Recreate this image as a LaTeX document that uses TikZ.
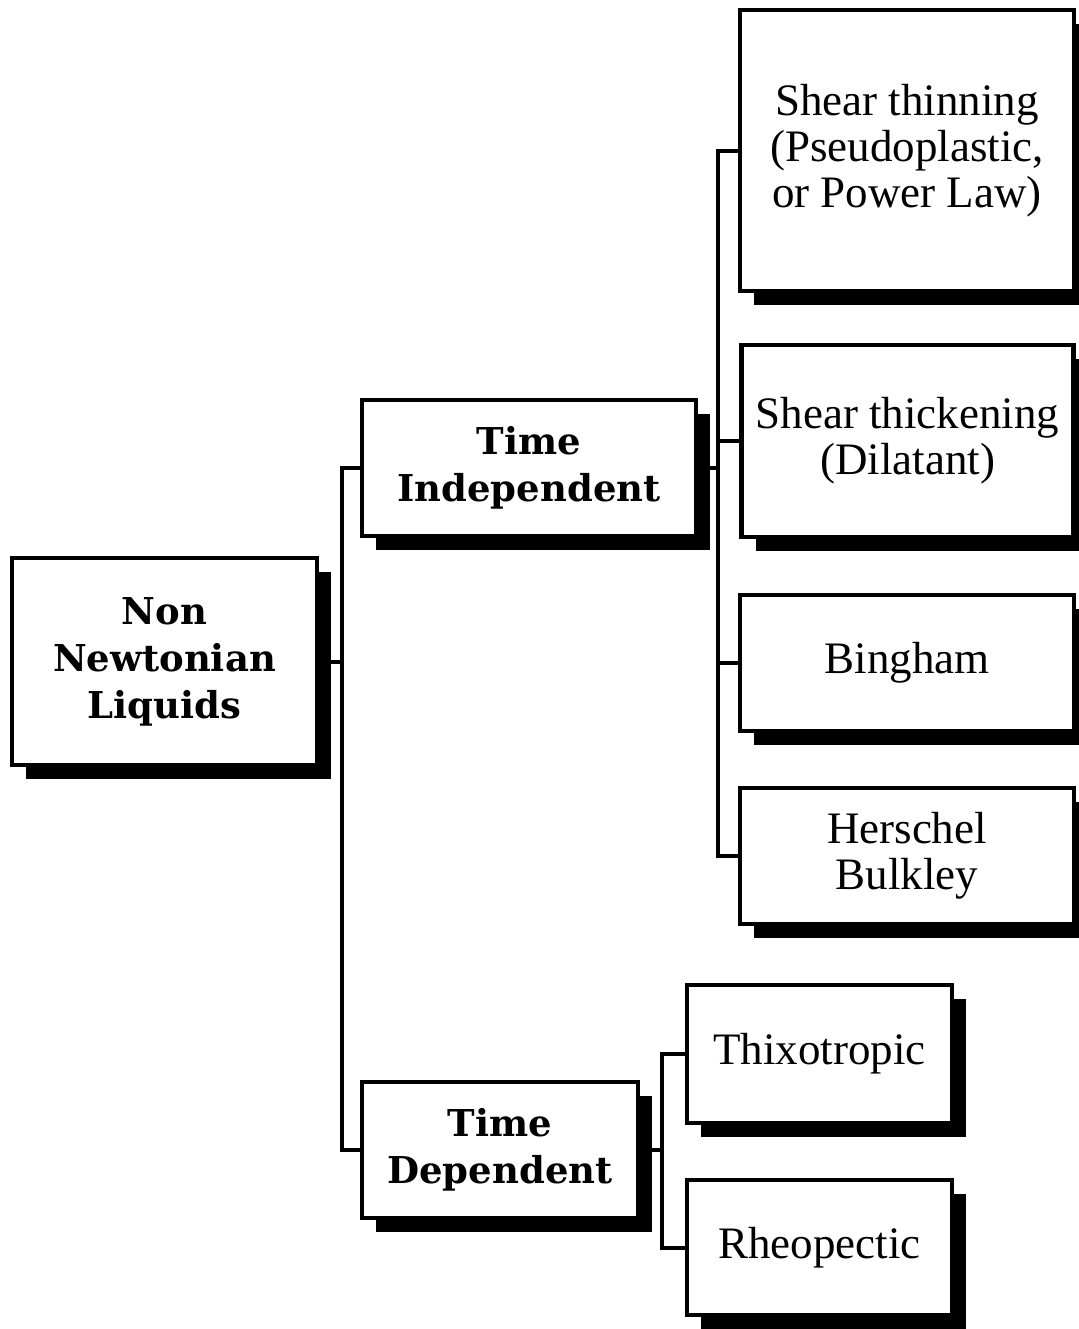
\documentclass[tikz,border=0pt]{standalone}
\usepackage{fontspec}
\usetikzlibrary{shadows}
\setmainfont{Liberation Serif}
\newfontfamily\slabfont{DejaVu Serif}

\begin{document}
\begin{tikzpicture}[
  x=0.5pt,y=-0.5pt,
  link/.style={line width=2pt},
  box/.style={draw,line width=2.2pt,fill=white,align=center,inner sep=0pt,outer sep=0pt,
    drop shadow={shadow xshift=7pt,shadow yshift=-7pt,fill=black,opacity=1}},
  head/.style={box,font=\slabfont\bfseries\fontsize{18.5}{23.5}\selectfont},
  leaf/.style={box,font=\fontsize{22.5}{23}\selectfont}
]
\useasboundingbox (0,0) rectangle (1079,1329);
% root and the two branches
\node[head,minimum width=152.5pt,minimum height=103.5pt] (nnl) at (164.5,661.5)
  {Non\\Newtonian\\Liquids};
\node[head,minimum width=167pt,minimum height=68pt] (ti) at (529,468)
  {Time\\Independent};
\node[head,minimum width=138pt,minimum height=68pt] (td) at (500,1150)
  {Time\\Dependent};
% time independent kinds
\node[leaf,minimum width=167pt,minimum height=140.5pt] (thin) at (907,150.5)
  {Shear thinning\\(Pseudoplastic,\\or Power Law)};
\node[leaf,minimum width=166pt,minimum height=96pt] (thick) at (907.5,441)
  {Shear thickening\\(Dilatant)};
\node[leaf,minimum width=167pt,minimum height=68pt] (bing) at (907,663) {Bingham};
\node[leaf,minimum width=167pt,minimum height=68pt] (hb) at (907,856)
  {Herschel\\Bulkley};
% time dependent kinds
\node[leaf,minimum width=132.5pt,minimum height=69pt] (thix) at (819.5,1054) {Thixotropic};
\node[leaf,minimum width=132.5pt,minimum height=67.5pt] (rheo) at (819.5,1247.5) {Rheopectic};
% tree lines
\draw[link] (nnl.east) -- ++(25,0);
\draw[link] (ti.west) -- ++(-20,0) |- (td.west);
\draw[link] (ti.east) -- ++(22,0);
\draw[link] (thin.west) -- ++(-22,0) |- (hb.west);
\draw[link] (thick.west) -- ++(-24,0);
\draw[link] (bing.west) -- ++(-22,0);
\draw[link] (td.east) -- ++(24,0);
\draw[link] (thix.west) -- ++(-25,0) |- (rheo.west);
\end{tikzpicture}
\end{document}
